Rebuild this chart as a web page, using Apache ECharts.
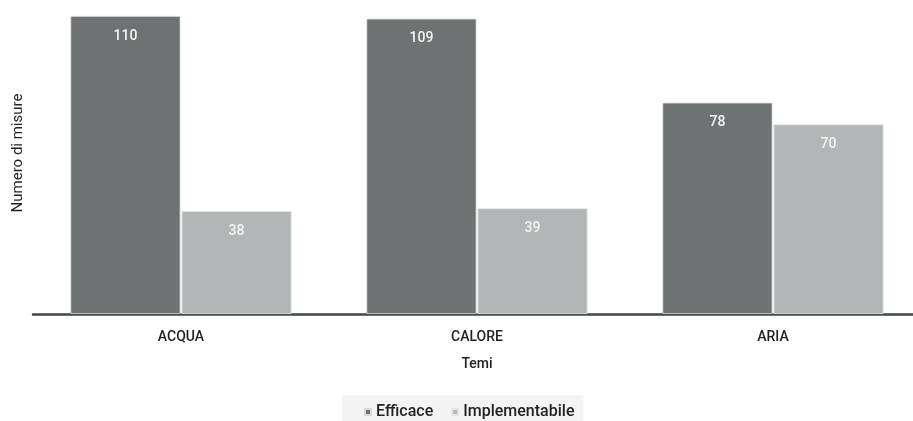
<!DOCTYPE html>
<html><head><meta charset="utf-8">
<script src="https://cdn.jsdelivr.net/npm/echarts@6/dist/echarts.min.js"></script>
<style>html,body{margin:0;padding:0;background:#fff}#c{width:913px;height:421px}</style>
</head><body><div id="c"></div>
<script>
const categories = ['ACQUA', 'CALORE', 'ARIA'];
const efficace = [110, 109, 78];
const implementabile = [38, 39, 70];
const seriesNames = ['Efficace', 'Implementabile'];

const font = 'Roboto, "DejaVu Sans", sans-serif';
const chart = echarts.init(document.getElementById('c'), null, {renderer: 'canvas'});
const labelCfg = {show: true, position: 'insideTop', distance: 13, color: '#f4f4f4', fontSize: 14, fontWeight: 500, fontFamily: font};
chart.setOption({
  backgroundColor: '#fff',
  animation: false,
  grid: {left: 33, width: 888, top: 16, bottom: 107, containLabel: false, outerBoundsMode: 'none'},
  legend: {
    top: 395, left: 342, itemWidth: 6, itemHeight: 6, itemGap: 18,
    icon: 'rect', backgroundColor: '#f4f4f4', padding: [9, 9, 3, 22],
    textStyle: {color: '#222', fontSize: 16, fontWeight: 500, fontFamily: font},
    data: seriesNames
  },
  xAxis: {
    type: 'category', data: categories,
    name: 'Temi', nameLocation: 'middle', nameGap: 43,
    nameTextStyle: {color: '#222', fontSize: 14, fontWeight: 500, fontFamily: font},
    axisLine: {lineStyle: {color: '#414646', width: 2.5}},
    axisTick: {show: false},
    axisLabel: {color: '#222', fontSize: 14, fontWeight: 500, margin: 16, fontFamily: font}
  },
  yAxis: {
    type: 'value', min: 0, max: 110,
    name: 'Numero di misure', nameLocation: 'middle', nameGap: 7,
    nameTextStyle: {color: '#222', fontSize: 15, fontFamily: font, padding: [0, 0, 0, 24]},
    axisLine: {show: false}, axisTick: {show: false}, axisLabel: {show: false},
    splitLine: {show: false}
  },
  series: [
    {name: seriesNames[0], type: 'bar', data: efficace, barWidth: 110, barGap: '1%',
     itemStyle: {color: '#6e7272', borderColor: '#d8d8d8', borderWidth: 0.8}, label: labelCfg},
    {name: seriesNames[1], type: 'bar', data: implementabile, barWidth: 110, barGap: '1%',
     itemStyle: {color: '#b3b6b6', borderColor: '#e4e4e4', borderWidth: 0.8}, label: labelCfg}
  ]
});
</script></body></html>
